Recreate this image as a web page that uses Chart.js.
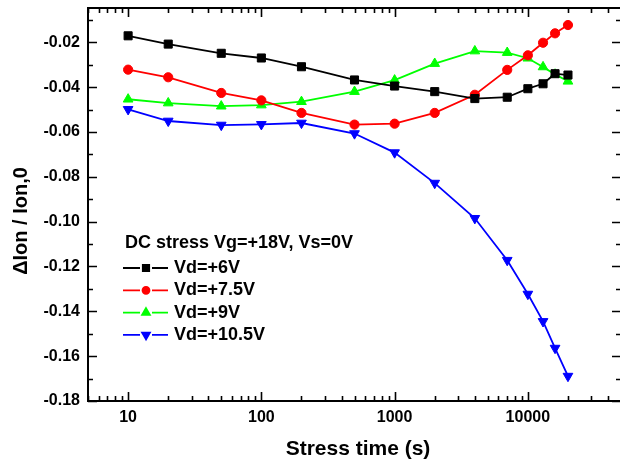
<!DOCTYPE html>
<html>
<head>
<meta charset="utf-8">
<script src="https://cdn.jsdelivr.net/npm/chart.js@4.4.1/dist/chart.umd.min.js"></script>
<style>
  html, body { margin: 0; padding: 0; background: #fff; overflow: hidden; }
  #wrap { width: 620px; height: 465px; overflow: hidden; }
</style>
</head>
<body>
<div id="wrap"><canvas id="stressChart" width="640" height="465"></canvas></div>
<script>
// stress time (s) and relative Ion shift for each drain bias
const times = [10, 20, 50, 100, 200, 500, 1000, 2000, 4000, 7000, 10000, 13000, 16000, 20000];
const vd6   = [-0.0171, -0.0208, -0.0249, -0.0270, -0.0309, -0.0368, -0.0395, -0.0420, -0.0451, -0.0445, -0.0407, -0.0385, -0.0340, -0.0346];
const vd7p5 = [-0.0322, -0.0356, -0.0426, -0.0459, -0.0515, -0.0567, -0.0563, -0.0515, -0.0434, -0.0323, -0.0258, -0.0202, -0.0160, -0.0123];
const vd9   = [-0.0454, -0.0471, -0.0485, -0.0480, -0.0465, -0.0420, -0.0369, -0.0295, -0.0239, -0.0246, -0.0271, -0.0310, -0.0343, -0.0374];
const vd10p5 = [-0.0499, -0.0551, -0.0569, -0.0566, -0.0560, -0.0607, -0.0692, -0.0828, -0.0985, -0.1172, -0.1323, -0.1445, -0.1564, -0.1689];

const seriesLabels = ['Vd=+6V', 'Vd=+7.5V', 'Vd=+9V', 'Vd=+10.5V'];
const xTicks = [10, 100, 1000, 10000];
const yTicks = [-0.18, -0.16, -0.14, -0.12, -0.10, -0.08, -0.06, -0.04, -0.02];
const legendTitle = 'DC stress Vg=+18V, Vs=0V';
const xTitle = 'Stress time (s)';
const yTitle = '\u0394Ion / Ion,0';

const FONT = '"Liberation Sans", Arial, Helvetica, sans-serif';

function points(vals) {
    return times.map((t, i) => ({ x: t, y: vals[i] }));
}

function series(label, vals, color, style, radius, rotation) {
    return {
        label: label,
        data: points(vals),
        borderColor: color,
        backgroundColor: color,
        borderWidth: 1.8,
        pointStyle: style,
        pointRadius: radius,
        pointHoverRadius: radius,
        pointRotation: rotation,
        pointBackgroundColor: color,
        pointBorderColor: color,
        pointBorderWidth: 1,
        tension: 0,
        fill: false
    };
}

// box, inward ticks, axis titles and the legend block
const framePlugin = {
    id: 'frame',
    beforeDatasetsDraw(chart) {
        const { ctx, chartArea: a, scales: { x, y } } = chart;
        ctx.save();
        ctx.strokeStyle = '#000';
        ctx.lineWidth = 2;
        ctx.strokeRect(a.left, a.top, a.right - a.left, a.bottom - a.top);

        ctx.lineWidth = 1.6;
        ctx.beginPath();
        for (let d = 1; d <= 100000; d *= 10) {
            for (let m = 1; m <= 9; m++) {
                const v = m * d;
                if (v < x.min || v > x.max) continue;
                const len = m === 1 ? 9 : 5;
                const px = Math.round(x.getPixelForValue(v)) + 0.5;
                ctx.moveTo(px, a.bottom);
                ctx.lineTo(px, a.bottom - len);
                ctx.moveTo(px, a.top);
                ctx.lineTo(px, a.top + len);
            }
        }
        for (let k = -18; k <= 0; k++) {
            const v = k / 100;
            if (v < y.min - 1e-9 || v > y.max) continue;
            const len = k % 2 === 0 ? 9 : 5;
            const py = Math.round(y.getPixelForValue(v)) + 0.5;
            ctx.moveTo(a.left, py);
            ctx.lineTo(a.left + len, py);
            ctx.moveTo(a.right, py);
            ctx.lineTo(a.right - len, py);
        }
        ctx.stroke();
        ctx.restore();
    },
    afterDraw(chart) {
        const { ctx } = chart;
        ctx.save();
        ctx.fillStyle = '#000';
        ctx.textBaseline = 'middle';

        // axis titles
        ctx.font = 'bold 21px ' + FONT;
        ctx.textAlign = 'center';
        ctx.fillText(xTitle, 358, 449);
        ctx.save();
        ctx.translate(21, 221);
        ctx.rotate(-Math.PI / 2);
        ctx.font = 'bold 20px ' + FONT;
        ctx.fillText(yTitle, 0, 0);
        ctx.restore();

        // legend
        ctx.textAlign = 'left';
        ctx.font = 'bold 18px ' + FONT;
        ctx.fillText(legendTitle, 125, 243);
        chart.data.datasets.forEach((ds, i) => {
            const yy = 268 + i * 22.3;
            ctx.strokeStyle = ds.borderColor;
            ctx.fillStyle = ds.borderColor;
            ctx.lineWidth = 1.8;
            ctx.beginPath();
            ctx.moveTo(123, yy);
            ctx.lineTo(140, yy);
            ctx.moveTo(152, yy);
            ctx.lineTo(168, yy);
            ctx.stroke();
            const r = ds.pointStyle === 'circle' ? 3.5 : 4.5;
            if (Chart.helpers && Chart.helpers.drawPoint) {
                Chart.helpers.drawPoint(ctx, {
                    pointStyle: ds.pointStyle,
                    radius: r,
                    rotation: ds.pointRotation,
                    borderWidth: 1
                }, 146, yy);
            } else {
                ctx.beginPath();
                ctx.arc(146, yy, r, 0, Math.PI * 2);
                ctx.fill();
            }
            ctx.fillStyle = '#000';
            ctx.fillText(ds.label, 174, yy);
        });
        ctx.restore();
    }
};

const ctx = document.getElementById('stressChart').getContext('2d');

new Chart(ctx, {
    type: 'line',
    data: {
        datasets: [
            series(seriesLabels[0], vd6, '#000000', 'rect', 5.7, 0),
            series(seriesLabels[1], vd7p5, '#ff0000', 'circle', 4.6, 0),
            series(seriesLabels[2], vd9, '#00ff00', 'triangle', 5.6, 0),
            series(seriesLabels[3], vd10p5, '#0000ff', 'triangle', 5.6, 180)
        ]
    },
    options: {
        responsive: false,
        animation: false,
        events: [],
        layout: { padding: { top: 8, right: 19, left: 0, bottom: 0 } },
        plugins: {
            legend: { display: false },
            tooltip: { enabled: false }
        },
        scales: {
            x: {
                type: 'logarithmic',
                min: 5,
                max: 50000,
                grid: { display: false, drawTicks: false },
                border: { display: false },
                afterBuildTicks: (scale) => {
                    scale.ticks = xTicks.map(v => ({ value: v }));
                },
                afterFit: (scale) => {
                    scale.height = 64;
                    scale.paddingLeft = 0;
                    scale.paddingRight = 0;
                },
                ticks: {
                    autoSkip: false,
                    maxRotation: 0,
                    padding: 7,
                    color: '#000',
                    font: { family: FONT, size: 16, weight: 'bold' },
                    callback: (v) => String(v)
                }
            },
            y: {
                type: 'linear',
                min: -0.18,
                max: -0.0047,
                grid: { display: false, drawTicks: false },
                border: { display: false },
                afterBuildTicks: (scale) => {
                    scale.ticks = yTicks.map(v => ({ value: v }));
                },
                afterFit: (scale) => {
                    scale.width = 88;
                    scale.paddingTop = 0;
                    scale.paddingBottom = 0;
                },
                ticks: {
                    padding: 8,
                    color: '#000',
                    font: { family: FONT, size: 16, weight: 'bold' },
                    callback: (v) => v.toFixed(2)
                }
            }
        }
    },
    plugins: [framePlugin]
});
</script>
</body>
</html>
